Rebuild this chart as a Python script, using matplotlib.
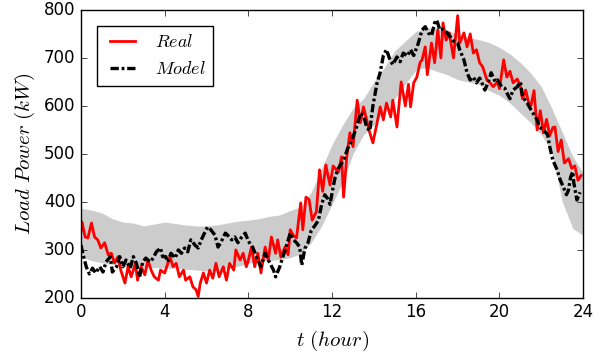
import numpy as np
import matplotlib
matplotlib.use('Agg')
import matplotlib.pyplot as plt

plt.style.use('classic')

# real load (hour, kW)
t_real = [0.0, 0.05, 0.2, 0.33, 0.5, 0.65, 0.8, 0.95, 1.13, 1.3, 1.45, 1.6, 1.77, 1.9,
          2.1, 2.25, 2.4, 2.6, 2.7, 2.87, 3.05, 3.2, 3.35, 3.5, 3.7, 3.8, 4.0, 4.25,
          4.4, 4.55, 4.7, 4.9, 5.0, 5.2, 5.35, 5.5, 5.6, 5.7, 5.85, 6.0, 6.15, 6.3,
          6.45, 6.6, 6.8, 6.95, 7.1, 7.3, 7.4, 7.6, 7.75, 7.9, 8.0, 8.15, 8.3, 8.45,
          8.6, 8.8, 8.95, 9.1, 9.3, 9.4, 9.55, 9.75, 9.9, 10.0, 10.15, 10.3, 10.5,
          10.6, 10.75, 10.9, 11.05, 11.25, 11.4, 11.55, 11.7, 11.9, 12.05, 12.3,
          12.45, 12.55, 12.7, 12.85, 13.0, 13.2, 13.35, 13.5, 13.65, 13.8, 13.95,
          14.15, 14.3, 14.45, 14.6, 14.8, 14.9, 15.1, 15.3, 15.5, 15.65, 15.75, 15.9,
          16.05, 16.2, 16.3, 16.45, 16.55, 16.75, 16.9, 17.05, 17.2, 17.3, 17.45,
          17.6, 17.8, 18.0, 18.1, 18.3, 18.45, 18.6, 18.75, 18.9, 19.05, 19.2, 19.4,
          19.55, 19.7, 19.9, 20.0, 20.2, 20.35, 20.5, 20.65, 20.85, 21.0, 21.1,
          21.25, 21.4, 21.5, 21.65, 21.8, 21.95, 22.1, 22.25, 22.4, 22.55, 22.65,
          22.8, 22.95, 23.1, 23.3, 23.45, 23.6, 23.75, 23.9]
real = [340, 358, 327, 325, 356, 327, 321, 304, 315, 290, 293, 273, 286, 258,
        231, 265, 244, 272, 237, 265, 248, 279, 258, 244, 237, 258, 252, 286,
        265, 272, 244, 258, 237, 244, 223, 217, 203, 231, 252, 231, 258, 241,
        272, 244, 265, 237, 272, 258, 300, 279, 293, 265, 279, 306, 265, 293,
        252, 306, 279, 327, 293, 321, 285, 306, 290, 342, 330, 325, 398,
        342, 410, 405, 362, 380, 467, 422, 477, 435, 475, 462,
        494, 410, 494, 544, 515, 612, 565, 598, 571, 544, 523,
        565, 598, 571, 606, 577, 612, 556, 650, 600, 645, 598, 648,
        660, 690, 696, 723, 665, 731, 690, 758, 700, 773, 737,
        752, 700, 788, 731, 752, 723, 750, 710, 717, 690, 681, 654,
        648, 640, 650, 636, 696, 660, 672, 648, 656, 640, 615,
        633, 606, 600, 632, 550, 590, 544, 572, 538, 555, 556,
        505, 529, 481, 490, 470, 475, 445, 455]

# model output (hour, kW)
t_model = [0.0, 0.1, 0.25, 0.4, 0.55, 0.7, 0.9, 1.05, 1.2, 1.4, 1.5, 1.7, 1.85, 2.0,
           2.15, 2.35, 2.5, 2.65, 2.8, 2.95, 3.1, 3.3, 3.45, 3.6, 3.8, 3.9, 4.05,
           4.15, 4.3, 4.5, 4.65, 4.8, 4.95, 5.1, 5.25, 5.45, 5.6, 5.75, 5.9, 6.05,
           6.2, 6.4, 6.55, 6.7, 6.9, 7.0, 7.2, 7.35, 7.5, 7.65, 7.85, 8.0, 8.2, 8.45,
           8.6, 8.8, 8.95, 9.2, 9.3, 9.5, 9.65, 9.8, 10.0, 10.15, 10.3, 10.45, 10.55,
           10.7, 10.85, 11.0, 11.2, 11.35, 11.5, 11.65, 11.8, 11.9, 12.05, 12.15,
           12.3, 12.55, 12.75, 12.95, 13.2, 13.35, 13.5, 13.65, 13.8, 13.95, 14.15,
           14.3, 14.45, 14.6, 14.75, 14.9, 15.1, 15.25, 15.4, 15.6, 15.75, 15.9,
           16.1, 16.3, 16.45, 16.6, 16.75, 16.9, 17.0, 17.15, 17.3, 17.5, 17.65,
           17.8, 18.0, 18.1, 18.3, 18.45, 18.6, 18.75, 18.9, 19.05, 19.2, 19.3,
           19.45, 19.6, 19.8, 19.9, 20.1, 20.25, 20.4, 20.5, 20.65, 20.85, 21.0,
           21.1, 21.3, 21.45, 21.6, 21.8, 21.9, 22.1, 22.3, 22.4, 22.55, 22.75,
           22.9, 23.05, 23.2, 23.3, 23.4, 23.5, 23.55, 23.7, 23.85]
model = [310, 290, 265, 250, 262, 252, 265, 254, 275, 286, 254, 265, 286, 265,
         279, 262, 286, 272, 244, 275, 283, 275, 283, 296, 304, 286, 286,
         275, 293, 283, 300, 293, 304, 296, 321, 310, 304, 321, 335, 348,
         342, 331, 306, 317, 335, 331, 321, 327, 315, 325, 335, 318, 306, 279,
         265, 293, 279, 258, 244, 265, 286, 306, 335, 321, 315, 306, 268,
         303, 315, 340, 352, 362, 395, 415, 406, 395, 431, 452,
         470, 487, 512, 529, 560, 585, 580, 556, 548, 600, 648,
         670, 705, 717, 698, 686, 702, 692, 710, 704, 717, 705,
         728, 758, 765, 752, 746, 773, 779, 758, 760, 752, 744,
         735, 731, 717, 696, 669, 654, 660, 648, 658, 644, 633,
         648, 669, 650, 654, 640, 637, 623, 615, 633, 640, 650,
         619, 608, 596, 585, 571, 556, 550, 540, 515, 487, 467,
         446, 431, 415, 425, 452, 463, 440, 404, 420]

# model uncertainty band, every half hour
band_upper = [387, 383, 377, 365, 358, 356, 350, 354, 358, 355, 352, 350, 350,
              352, 356, 360, 362, 365, 370, 373, 382, 390, 420, 470, 520, 560,
              595, 615, 650, 680, 715, 735, 755, 762, 763, 758, 748, 743, 738,
              732, 722, 708, 690, 668, 640, 595, 545, 495, 460]
band_lower = [285, 278, 273, 270, 266, 264, 262, 263, 262, 262, 260, 258, 256,
              258, 262, 266, 272, 276, 278, 280, 284, 292, 315, 350, 395, 440,
              500, 540, 560, 590, 615, 645, 675, 680, 672, 665, 655, 650, 645,
              632, 622, 606, 585, 565, 540, 505, 400, 345, 330]
t_band = np.arange(0, 24.01, 0.5)

fig = plt.figure(figsize=(6.0, 3.53), dpi=100, facecolor='white')
ax = fig.add_axes([0.135, 0.156, 0.837, 0.816])

ax.fill_between(t_band, band_lower, band_upper, color='#cccccc', lw=0)
ax.plot(t_real, real, '-', color='red', lw=2, label=r'$Real$')
ax.plot(t_model, model, '-.', color='black', lw=2.4, dashes=(6, 2, 2, 2),
        label=r'$Model$')

ax.set_xlim(0, 24)
ax.set_ylim(200, 800)
ax.set_xticks(range(0, 25, 4))
ax.set_yticks(range(200, 801, 100))
ax.tick_params(labelsize=12)
ax.set_xlabel(r'$t\ (hour)$', fontsize=15)
ax.set_ylabel(r'$Load\ Power\ (kW)$', fontsize=15)
ax.legend(loc='upper left', fontsize=13, borderaxespad=0.9)

fig.savefig('out.png', dpi=100, facecolor='white')
